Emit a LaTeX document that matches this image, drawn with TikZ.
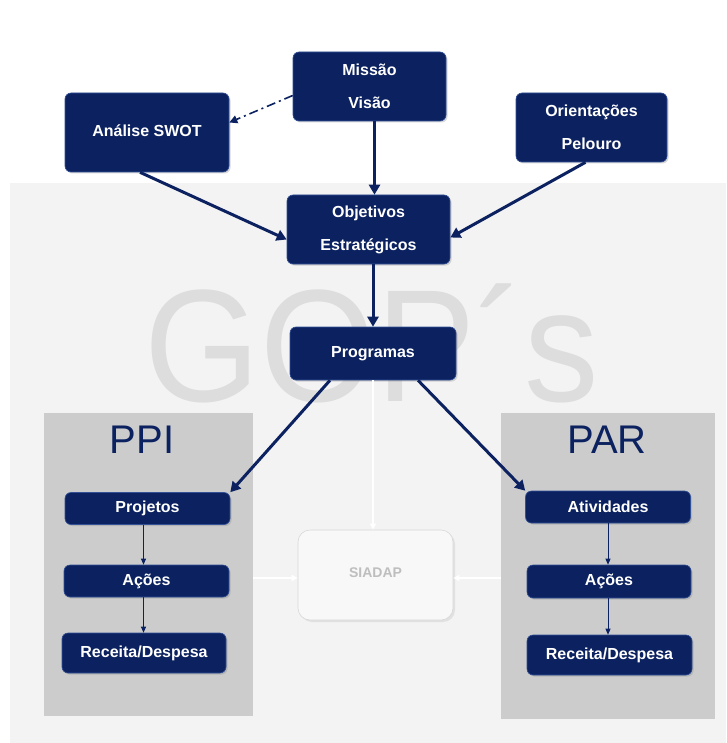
\documentclass[tikz,border=0pt]{standalone}
\usepackage{fontspec}
\setmainfont{Liberation Sans}
\usetikzlibrary{arrows.meta,shadows}
\definecolor{navy}{RGB}{12,34,96}
\definecolor{navyedge}{RGB}{50,80,150}
\definecolor{bgray}{RGB}{243,243,243}
\definecolor{pgray}{RGB}{204,204,204}
\definecolor{gopgray}{RGB}{221,221,221}
\definecolor{siatext}{RGB}{190,190,190}
\begin{document}
\begin{tikzpicture}[x=1pt,y=-1pt,
  bigbox/.style={draw=navyedge, line width=0.6pt, fill=navy, rounded corners=6pt, text=white,
    font=\bfseries\fontsize{16}{33}\selectfont, align=center, inner sep=0pt,
    drop shadow={opacity=0.3, shadow xshift=1.5pt, shadow yshift=-1.5pt}},
  smallbox/.style={bigbox, font=\bfseries\fontsize{16}{18}\selectfont},
  panel/.style={fill=pgray, inner sep=0pt},
  bigarrow/.style={draw=navy, line width=3pt, -{Triangle[length=10pt,width=11pt]}},
  thinarrow/.style={draw=navy, line width=0.8pt, -{Triangle[length=6pt,width=5pt]}},
  whitearrow/.style={draw=white, line width=1.4pt, -{Triangle[length=6pt,width=6pt]}},
  dasharrow/.style={draw=navy, line width=1.6pt, dash pattern=on 9pt off 4pt on 2pt off 4pt, -{Triangle[length=8pt,width=8pt]}}
]
\useasboundingbox (0,0) rectangle (726,743);
\fill[white] (0,0) rectangle (726,743);
\fill[bgray] (10,183) rectangle (726,743);

% big watermark
\node[text=gopgray, font=\fontsize{160}{160}\selectfont, inner sep=0pt] (gop) at (372,343) {\scalebox{0.93}[1]{GOP´s}};

% panels
\node[panel, minimum width=209pt, minimum height=303pt] (ppi) at (148.5,564.5) {};
\node[panel, minimum width=214pt, minimum height=306pt] (par) at (608,566) {};
\node[text=navy, font=\fontsize{40}{40}\selectfont, inner sep=0pt] (ppil) at (142,440) {PPI};
\node[text=navy, font=\fontsize{40}{40}\selectfont, inner sep=0pt] (parl) at (607,440) {PAR};

% top nodes
\node[bigbox, minimum width=153pt, minimum height=69pt] (mv) at (369.5,86.5) {Missão\\Visão};
\node[bigbox, minimum width=164pt, minimum height=79pt] (swot) at (147,132.5) {\raisebox{4pt}{Análise SWOT}};
\node[bigbox, minimum width=151pt, minimum height=69pt] (ori) at (591.5,127.5) {Orientações\\Pelouro};
\node[bigbox, minimum width=163pt, minimum height=69pt] (obj) at (368.5,229.5) {Objetivos\\Estratégicos};
\node[bigbox, minimum width=166pt, minimum height=53pt, font=\bfseries\fontsize{16}{18}\selectfont] (prog) at (373,353.5) {\raisebox{2pt}{Programas}};

% SIADAP
\node[draw=siatext!60, line width=0.6pt, fill=bgray!60!white, rounded corners=12pt, minimum width=155pt, minimum height=90pt,
  text=siatext, font=\bfseries\fontsize{14}{16}\selectfont, inner sep=0pt,
  drop shadow={opacity=0.15, shadow xshift=2pt, shadow yshift=-2pt}] (sia) at (375.5,575) {\raisebox{4pt}{SIADAP}};

% left column
\node[smallbox, minimum width=165pt, minimum height=32pt] (proj) at (147.5,508.5) {Projetos};
\node[smallbox, minimum width=165pt, minimum height=32pt] (acl) at (146.5,581) {Ações};
\node[smallbox, minimum width=164pt, minimum height=40pt] (rdl) at (144,653) {Receita/Despesa};
% right column
\node[smallbox, minimum width=165pt, minimum height=32pt] (ativ) at (608,507) {Atividades};
\node[smallbox, minimum width=164pt, minimum height=33pt] (acr) at (609,581.5) {Ações};
\node[smallbox, minimum width=165pt, minimum height=40pt] (rdr) at (609.5,655) {Receita/Despesa};

% connectors
\draw[dasharrow] ([yshift=-9pt]mv.west) -- ([yshift=10pt]swot.east);
\draw[bigarrow] ([xshift=5pt]mv.south) -- ([xshift=5pt]mv.south |- obj.north);
\draw[bigarrow] ([xshift=-7pt]swot.south) -- ([yshift=-10pt]obj.west);
\draw[bigarrow] ([xshift=-6pt]ori.south) -- ([yshift=-8pt]obj.east);
\draw[bigarrow] (prog.north |- obj.south) -- (prog.north);
\draw[bigarrow] ([xshift=-43pt]prog.south) -- (proj.north east);
\draw[bigarrow] ([xshift=45pt]prog.south) -- (ativ.north west);

\draw[thinarrow] ([xshift=-4pt]proj.south) -- ([xshift=-4pt]proj.south |- acl.north);
\draw[thinarrow] ([xshift=-3pt]acl.south) -- ([xshift=-3pt]acl.south |- rdl.north);
\draw[thinarrow] (ativ.south) -- (ativ.south |- acr.north);
\draw[thinarrow] ([xshift=-1pt]acr.south) -- ([xshift=-1pt]acr.south |- rdr.north);

\draw[whitearrow] (prog.south) -- (prog.south |- sia.north);
\draw[whitearrow] ([yshift=-3pt]ppi.east |- sia.west) -- ([yshift=-3pt]sia.west);
\draw[whitearrow] ([yshift=-3pt]par.west |- sia.east) -- ([yshift=-3pt]sia.east);
\end{tikzpicture}
\end{document}
